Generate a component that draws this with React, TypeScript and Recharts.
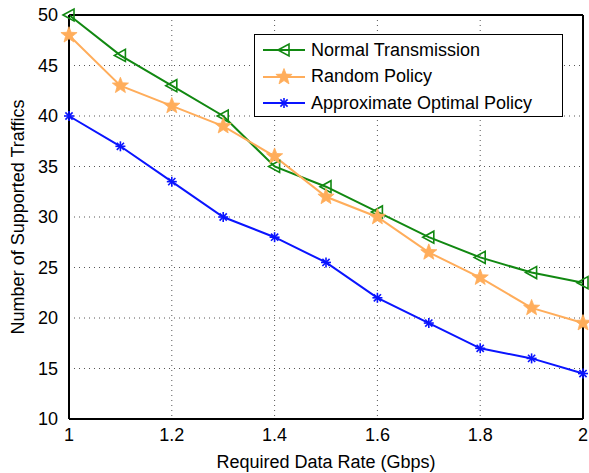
import React from 'react';
import { LineChart, Line, XAxis, YAxis, CartesianGrid, ReferenceLine } from 'recharts';

const rates = [1.0, 1.1, 1.2, 1.3, 1.4, 1.5, 1.6, 1.7, 1.8, 1.9, 2.0];
const normalTx = [50, 46, 43, 40, 35, 33, 30.5, 28, 26, 24.5, 23.5];
const randomPolicy = [48, 43, 41, 39, 36, 32, 30, 26.5, 24, 21, 19.5];
const approxOptimal = [40, 37, 33.5, 30, 28, 25.5, 22, 19.5, 17, 16, 14.5];
const xTicks = [1, 1.2, 1.4, 1.6, 1.8, 2];
const yTicks = [10, 15, 20, 25, 30, 35, 40, 45, 50];

const GREEN = '#118811';
const ORANGE = '#ffad5b';
const BLUE = '#0a14ff';
const FONT = '"Liberation Sans", Arial, Helvetica, sans-serif';

const data = rates.map((r, i) => ({
  rate: r,
  normal: normalTx[i],
  random: randomPolicy[i],
  optimal: approxOptimal[i],
}));

// marker shapes (MATLAB style)
const Triangle = ({ cx, cy, color }: any) => (
  <polygon
    points={`${cx - 6},${cy} ${cx + 5},${cy - 6} ${cx + 5},${cy + 6}`}
    fill="none"
    stroke={color}
    strokeWidth={1.6}
  />
);

const Star = ({ cx, cy, color }: any) => {
  const pts: string[] = [];
  for (let k = 0; k < 10; k++) {
    const r = k % 2 === 0 ? 8.5 : 3.6;
    const a = -Math.PI / 2 + (k * Math.PI) / 5;
    pts.push(`${cx + r * Math.cos(a)},${cy + r * Math.sin(a)}`);
  }
  return <polygon points={pts.join(' ')} fill={color} stroke={color} strokeWidth={0.8} />;
};

const Asterisk = ({ cx, cy, color }: any) => {
  const r = 5;
  const d = r * 0.72;
  return (
    <g stroke={color} strokeWidth={1.6}>
      <line x1={cx - r} y1={cy} x2={cx + r} y2={cy} />
      <line x1={cx} y1={cy - r} x2={cx} y2={cy + r} />
      <line x1={cx - d} y1={cy - d} x2={cx + d} y2={cy + d} />
      <line x1={cx - d} y1={cy + d} x2={cx + d} y2={cy - d} />
    </g>
  );
};

const legendItems = [
  { name: 'Normal Transmission', color: GREEN, Marker: Triangle },
  { name: 'Random Policy', color: ORANGE, Marker: Star },
  { name: 'Approximate Optimal Policy', color: BLUE, Marker: Asterisk },
];

function LegendBox() {
  return (
    <div
      style={{
        position: 'absolute',
        left: 254,
        top: 34,
        width: 309,
        height: 83,
        border: '1.5px solid #000',
        background: '#fff',
        boxSizing: 'border-box',
        fontFamily: FONT,
        fontSize: 18,
        paddingTop: 2,
      }}
    >
      {legendItems.map(({ name, color, Marker }) => (
        <div key={name} style={{ display: 'flex', alignItems: 'center', height: 26.5 }}>
          <svg width={44} height={20} style={{ marginLeft: 8 }}>
            <line x1={0} y1={10} x2={42} y2={10} stroke={color} strokeWidth={2} />
            <Marker cx={21} cy={10} color={color} />
          </svg>
          <span style={{ marginLeft: 4, color: '#000' }}>{name}</span>
        </div>
      ))}
    </div>
  );
}

const labelStyle = { fill: '#000', fontSize: 18, fontFamily: FONT };

export default function App() {
  return (
    <div style={{ position: 'absolute', left: 0, top: 0, width: 589, height: 473, background: '#fff' }}>
      <LineChart width={589} height={473} data={data} margin={{ top: 15, right: 6, left: 0, bottom: 0 }}>
        <CartesianGrid stroke="#555" strokeDasharray="1 4" strokeWidth={1} />
        <XAxis
          dataKey="rate"
          type="number"
          domain={[1, 2]}
          ticks={xTicks}
          tickFormatter={(v: number) => String(v)}
          height={54}
          tick={labelStyle}
          tickLine={false}
          tickMargin={3}
          axisLine={{ stroke: '#000', strokeWidth: 2 }}
          label={{
            content: () => (
              <text x={326} y={462} textAnchor="middle" dominantBaseline="central" style={labelStyle}>
                Required Data Rate (Gbps)
              </text>
            ),
          }}
        />
        <YAxis
          type="number"
          domain={[10, 50]}
          ticks={yTicks}
          width={69}
          tick={labelStyle}
          tickLine={false}
          tickMargin={5}
          axisLine={{ stroke: '#000', strokeWidth: 2 }}
          label={{
            content: () => (
              <text
                x={18}
                y={217}
                transform="rotate(-90, 18, 217)"
                textAnchor="middle"
                dominantBaseline="central"
                style={labelStyle}
              >
                Number of Supported Traffics
              </text>
            ),
          }}
        />
        <ReferenceLine y={50} stroke="#000" strokeWidth={2} />
        <ReferenceLine x={2} stroke="#000" strokeWidth={2} />
        <Line
          dataKey="normal"
          name="Normal Transmission"
          stroke={GREEN}
          strokeWidth={2}
          dot={(p: any) => <Triangle key={p.index} cx={p.cx} cy={p.cy} color={GREEN} />}
          isAnimationActive={false}
        />
        <Line
          dataKey="random"
          name="Random Policy"
          stroke={ORANGE}
          strokeWidth={2}
          dot={(p: any) => <Star key={p.index} cx={p.cx} cy={p.cy} color={ORANGE} />}
          isAnimationActive={false}
        />
        <Line
          dataKey="optimal"
          name="Approximate Optimal Policy"
          stroke={BLUE}
          strokeWidth={2}
          dot={(p: any) => <Asterisk key={p.index} cx={p.cx} cy={p.cy} color={BLUE} />}
          isAnimationActive={false}
        />
      </LineChart>
      <LegendBox />
    </div>
  );
}
